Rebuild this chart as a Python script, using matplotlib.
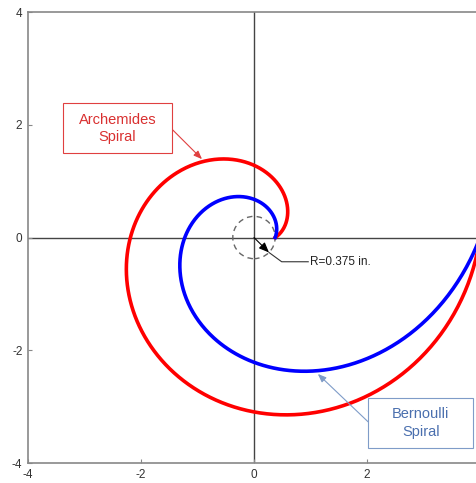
import matplotlib
matplotlib.use('Agg')
import matplotlib.pyplot as plt
from matplotlib.patches import Rectangle
import numpy as np

plt.rcParams['font.family'] = ['Liberation Sans', 'DejaVu Sans']

# values
r_start = 0.375          # dashed circle, both spirals start on it
r_end = 4.0              # radius after one full turn
ticks = [-4, -2, 0, 2, 4]
x_tick_labels = ['-4', '-2', '0', '2', '']   # the "4" is cut off in the original
y_tick_labels = ['-4', '-2', '0', '2', '4']
archimedes_label = 'Archemides\nSpiral'
bernoulli_label = 'Bernoulli\nSpiral'
radius_label = 'R=0.375 in.'

theta = np.linspace(0, 2 * np.pi, 500)
# Archimedes: r grows linearly, Bernoulli (log): r grows exponentially
r_arch = r_start + (r_end - r_start) * theta / (2 * np.pi)
r_bern = r_start * (r_end / r_start) ** (theta / (2 * np.pi))

fig = plt.figure(figsize=(4.76, 4.83), dpi=100)
ax = fig.add_axes([0.0588, 0.0414, 0.9496, 0.9337])

ax.axhline(0, color='#444444', lw=1.0, zorder=1)
ax.axvline(0, color='#444444', lw=1.0, zorder=1)

circle = plt.Circle((0, 0), r_start, fill=False, ls=(0, (4, 3)), color='#666666', lw=1.0)
ax.add_patch(circle)

ax.plot(r_arch * np.cos(theta), r_arch * np.sin(theta), color='#ff0000', lw=2.6, zorder=3)
ax.plot(r_bern * np.cos(theta), r_bern * np.sin(theta), color='#0000ff', lw=2.6, zorder=3)

# radius leader
c45 = r_start / np.sqrt(2)
ax.annotate('', xy=(c45, -c45), xytext=(0, 0),
            arrowprops=dict(arrowstyle='-|>,head_length=0.6,head_width=0.25', color='black', lw=0.8,
                            shrinkA=0, shrinkB=0))
ax.plot([c45, 0.49, 0.96], [-c45, -0.43, -0.43], color='#333333', lw=0.8)
ax.text(0.99, -0.43, radius_label, fontsize=8.5, color='#222222', va='center', ha='left')

# callout boxes
ax.add_patch(Rectangle((-3.38, 1.50), 1.93, 0.88, fc='white', ec='#e04040', lw=0.8, zorder=4))
ax.text(-2.415, 1.94, archimedes_label, fontsize=10.5, color='#d93030', ha='center', va='center',
        linespacing=1.3, zorder=5)
ax.annotate('', xy=(-0.92, 1.39), xytext=(-1.45, 1.92),
            arrowprops=dict(arrowstyle='-|>,head_length=0.5,head_width=0.2', color='#e04040', lw=0.8,
                            shrinkA=0, shrinkB=0))

ax.add_patch(Rectangle((2.02, -3.73), 1.86, 0.88, fc='white', ec='#7f9cc8', lw=0.8, zorder=4))
ax.text(2.95, -3.29, bernoulli_label, fontsize=10.5, color='#4a6fae', ha='center', va='center',
        linespacing=1.3, zorder=5)
ax.annotate('', xy=(1.13, -2.42), xytext=(2.02, -3.27),
            arrowprops=dict(arrowstyle='-|>,head_length=0.5,head_width=0.2', color='#7f9cc8', lw=0.8,
                            shrinkA=0, shrinkB=0))

ax.set_xlim(-4, 4)
ax.set_ylim(-4, 4)
ax.set_xticks(ticks)
ax.set_xticklabels(x_tick_labels)
ax.set_yticks(ticks)
ax.set_yticklabels(y_tick_labels)
ax.tick_params(direction='in', length=3, width=0.8, colors='#888888', labelcolor='#333333',
               labelsize=8.5, pad=4)
for s in ax.spines.values():
    s.set_color('#888888')
    s.set_linewidth(1.2)

fig.savefig('out.png', dpi=100)
